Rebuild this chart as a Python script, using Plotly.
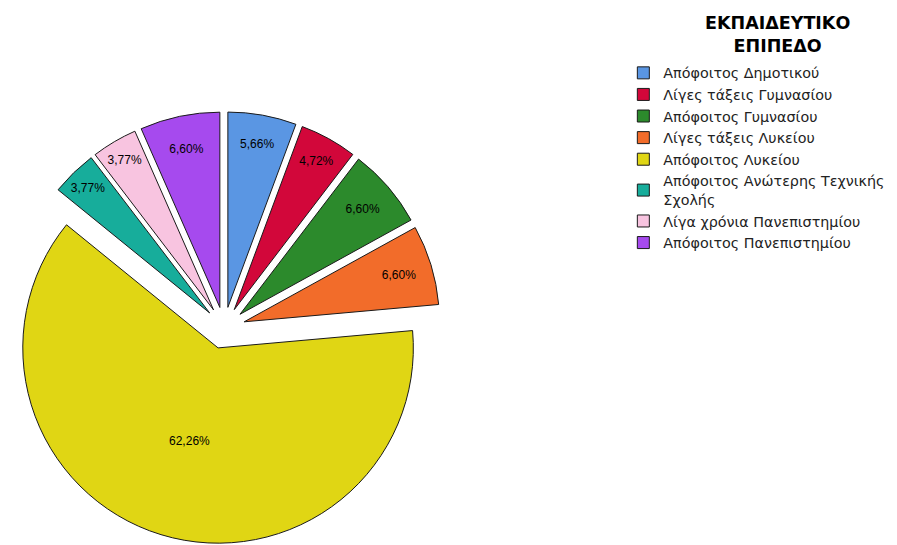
import plotly.graph_objects as go

labels = [
    "Απόφοιτος Δημοτικού",
    "Λίγες τάξεις Γυμνασίου",
    "Απόφοιτος Γυμνασίου",
    "Λίγες τάξεις Λυκείου",
    "Απόφοιτος Λυκείου",
    "Απόφοιτος Ανώτερης Τεχνικής<br>Σχολής",
    "Λίγα χρόνια Πανεπιστημίου",
    "Απόφοιτος Πανεπιστημίου",
]
percents = [5.66, 4.72, 6.60, 6.60, 62.26, 3.77, 3.77, 6.60]
colors = ["#5A96E3", "#D2073A", "#2C8A2C", "#F26C2A", "#E0D614", "#17AD9B", "#F8C4E0", "#A64AEE"]

fig = go.Figure(
    go.Pie(
        labels=labels,
        values=percents,
        sort=False,
        direction="clockwise",
        rotation=0,
        pull=[0.107] * len(percents),
        marker=dict(colors=colors, line=dict(color="#1a1a1a", width=1)),
        texttemplate="%{value:.2f}%",
        textposition="inside",
        insidetextorientation="horizontal",
        textfont=dict(family="Liberation Sans, Arial, sans-serif", size=12, color="black"),
        domain=dict(x=[0, 0.482], y=[0.0155, 0.8105]),
        hoverinfo="label+percent",
    )
)

# legend title as a centred annotation (SPSS centres each line)
fig.add_annotation(
    text="<b>ΕΚΠΑΙΔΕΥΤΙΚΟ<br>ΕΠΙΠΕΔΟ</b>",
    xref="paper", yref="paper",
    x=0.858, y=0.995,
    xanchor="center", yanchor="top",
    align="center",
    showarrow=False,
    font=dict(family="DejaVu Sans, sans-serif", size=17.5, color="black"),
)

fig.update_layout(
    width=897,
    height=545,
    margin=dict(l=0, r=0, t=0, b=0),
    paper_bgcolor="white",
    separators=",.",
    font=dict(family="DejaVu Sans, sans-serif", color="black"),
    legend=dict(
        x=0.686,
        y=0.910,
        xanchor="left",
        yanchor="top",
        font=dict(size=14.3, color="#222"),
        itemwidth=30,
        tracegroupgap=0,
    ),
)

fig.write_html("out.html")
